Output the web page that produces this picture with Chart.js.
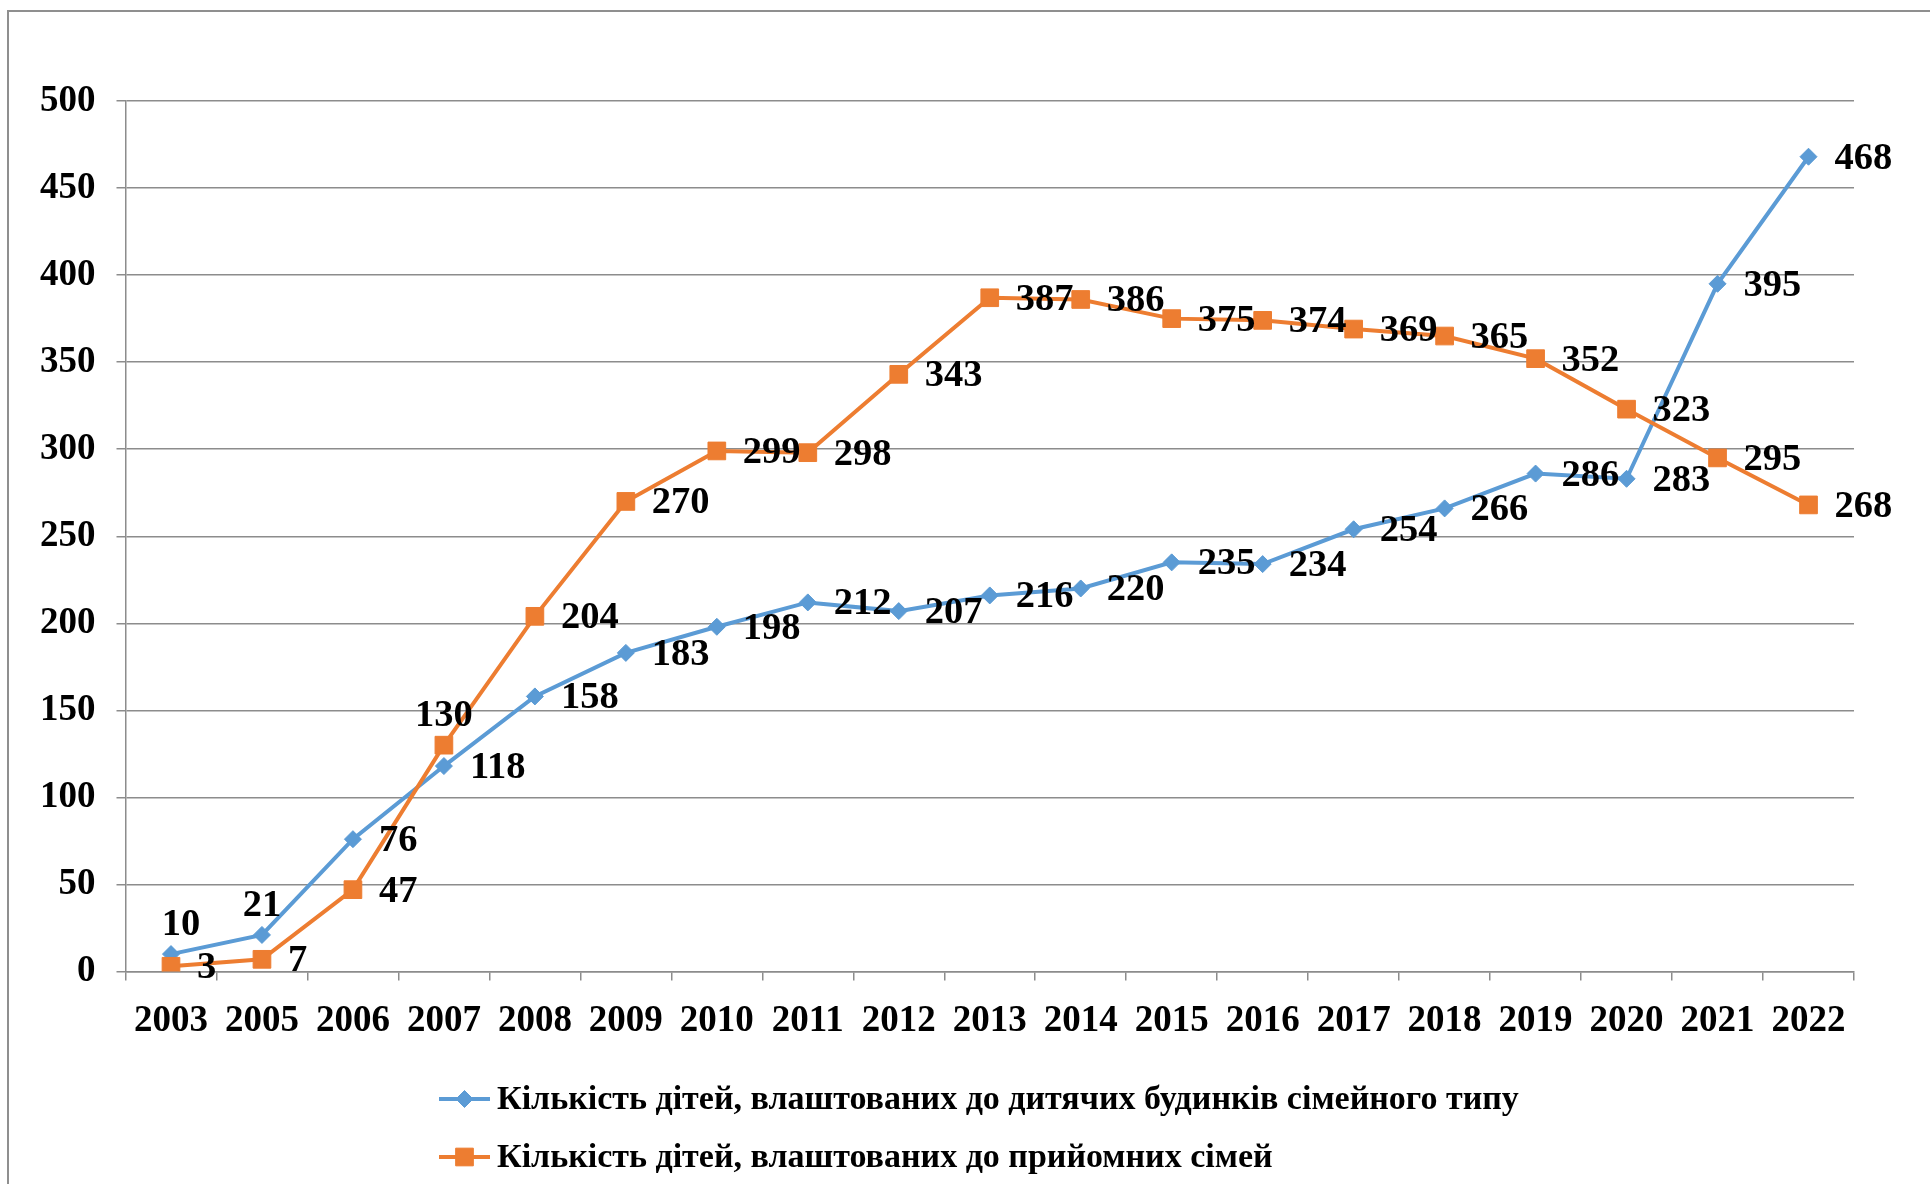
<!DOCTYPE html>
<html><head><meta charset="utf-8">
<script src="https://cdn.jsdelivr.net/npm/chart.js@4.4.1/dist/chart.umd.min.js"></script>
<style>html,body{margin:0;padding:0;background:#fff;}#wrap{width:1930px;height:1184px;position:relative;}canvas{display:block;}</style>
</head><body><div id="wrap"><canvas id="c" width="1930" height="1184" style="width:1930px;height:1184px"></canvas></div>
<script>
const years = ['2003','2005','2006','2007','2008','2009','2010','2011','2012','2013','2014','2015','2016','2017','2018','2019','2020','2021','2022'];
const familyHomes = [10,21,76,118,158,183,198,212,207,216,220,235,234,254,266,286,283,395,468];
const fosterFamilies = [3,7,47,130,204,270,299,298,343,387,386,375,374,369,365,352,323,295,268];
const seriesNames = [
  'Кількість дітей, влаштованих до дитячих будинків сімейного типу',
  'Кількість дітей, влаштованих до прийомних сімей'
];
const yMin = 0, yMax = 500, yStep = 50;

// label placement per dataset: indices placed above the point (others to the right)
const labelAbove = [[0,1],[3]];

const FONT = "'Liberation Serif','Times New Roman',serif";
const GRID = '#8c8c8c';
const BLUE = '#5B9BD5', ORANGE = '#ED7D31';

const framePlugin = {
  id: 'frame',
  beforeDraw(chart){
    const ctx = chart.ctx;
    ctx.save();
    ctx.fillStyle = '#fff';
    ctx.fillRect(0,0,chart.width,chart.height);
    ctx.strokeStyle = '#8f8f8f';
    ctx.lineWidth = 2;
    ctx.beginPath();
    ctx.moveTo(8, chart.height + 5);
    ctx.lineTo(8, 11);
    ctx.lineTo(chart.width + 5, 11);
    ctx.stroke();
    ctx.restore();
  }
};

const labelPlugin = {
  id: 'valueLabels',
  afterDatasetsDraw(chart){
    const ctx = chart.ctx;
    ctx.save();
    ctx.font = "bold 38.5px " + FONT;
    ctx.fillStyle = '#000';
    chart.data.datasets.forEach((ds, di) => {
      const meta = chart.getDatasetMeta(di);
      meta.data.forEach((pt, i) => {
        const txt = String(ds.data[i]);
        ctx.textBaseline = 'middle';
        if (labelAbove[di].includes(i)) {
          ctx.textAlign = 'center';
          ctx.fillText(txt, pt.x + (i===0 && di===0 ? 10 : 0), pt.y - 29);
        } else {
          ctx.textAlign = 'left';
          ctx.fillText(txt, pt.x + 26, pt.y + 2);
        }
      });
    });
    ctx.restore();
  }
};

const legendPlugin = {
  id: 'customLegend',
  afterDraw(chart){
    const ctx = chart.ctx;
    const rows = [1099, 1157];
    chart.data.datasets.forEach((ds, di) => {
      const y = rows[di];
      ctx.save();
      ctx.strokeStyle = ds.borderColor;
      ctx.lineWidth = ds.borderWidth;
      ctx.beginPath();
      ctx.moveTo(439, y); ctx.lineTo(490, y);
      ctx.stroke();
      ctx.fillStyle = ds.backgroundColor;
      ctx.strokeStyle = ds.borderColor;
      ctx.lineWidth = 1;
      Chart.helpers.drawPoint(ctx, {pointStyle: ds.pointStyle, radius: ds.pointRadius, borderWidth: 1, rotation: 0}, 464.5, y);
      ctx.fillStyle = '#000';
      ctx.font = "bold 34px " + FONT;
      ctx.textAlign = 'left';
      ctx.textBaseline = 'middle';
      ctx.fillText(ds.label, 497, y + 1);
      ctx.restore();
    });
  }
};

new Chart(document.getElementById('c'), {
  type: 'line',
  data: {
    labels: years,
    datasets: [
      {label: seriesNames[0], data: familyHomes, borderColor: BLUE, backgroundColor: BLUE,
       pointBackgroundColor: BLUE, pointBorderColor: BLUE, pointStyle: 'rectRot', pointRadius: 8.5, pointBorderWidth: 1,
       borderWidth: 4, tension: 0, order: 1},
      {label: seriesNames[1], data: fosterFamilies, borderColor: ORANGE, backgroundColor: ORANGE,
       pointBackgroundColor: ORANGE, pointBorderColor: ORANGE, pointStyle: 'rect', pointRadius: 12.5, pointBorderWidth: 1,
       borderWidth: 4, tension: 0, order: 0}
    ]
  },
  options: {
    responsive: false,
    devicePixelRatio: 1,
    animation: false,
    layout: {padding: {top: 101, right: 76, bottom: 0, left: 0}},
    plugins: {legend: {display: false}, tooltip: {enabled: false}, title: {display: false}},
    scales: {
      x: {
        type: 'category',
        offset: true,
        grid: {offset: true, drawOnChartArea: false, drawTicks: true, tickLength: 9, color: GRID, lineWidth: 1.5},
        border: {display: true, color: GRID, width: 1.5},
        ticks: {autoSkip: false, maxRotation: 0, padding: 19, color: '#000', font: {family: FONT, size: 37, weight: 'bold'}},
        afterFit(s){ s.height = 212.5; }
      },
      y: {
        min: yMin, max: yMax,
        grid: {color: GRID, lineWidth: 1.5, tickLength: 9, drawTicks: true},
        border: {display: true, color: GRID, width: 1.5},
        ticks: {stepSize: yStep, padding: 21, color: '#000', font: {family: FONT, size: 37, weight: 'bold'}},
        afterFit(s){ s.width = 125.5; }
      }
    }
  },
  plugins: [framePlugin, labelPlugin, legendPlugin]
});
</script>
</body></html>
